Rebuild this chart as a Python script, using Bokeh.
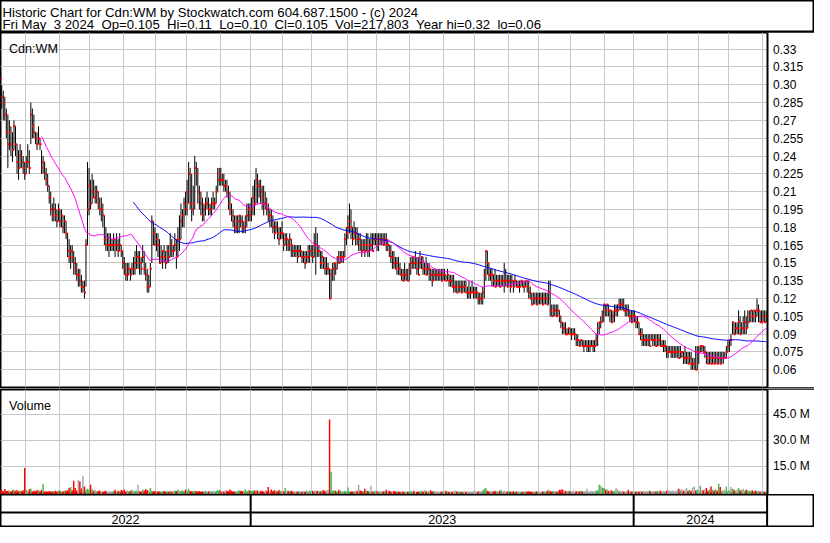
import pandas as pd
from bokeh.plotting import figure
from bokeh.layouts import column
from bokeh.models import (Range1d, FixedTicker, Grid, Label, LinearAxis,
                          ColumnDataSource)
from bokeh.core.properties import value
from bokeh.embed import file_html
from bokeh.resources import INLINE

# ---------------- data ----------------
TITLE_1 = "Historic Chart for Cdn:WM by Stockwatch.com 604.687.1500 - (c) 2024"
TITLE_2 = "Fri May  3 2024  Op=0.105  Hi=0.11  Lo=0.10  Cl=0.105  Vol=217,803  Year hi=0.32  lo=0.06"
SYMBOL = "Cdn:WM"
VOLUME_LABEL = "Volume"

START = "2022-05-04"
END = "2024-05-03"
HOLIDAYS = ["2022-05-23", "2022-07-01", "2022-08-01", "2022-09-05", "2022-10-10",
            "2022-12-26", "2022-12-27", "2023-01-02", "2023-02-20", "2023-04-07",
            "2023-05-22", "2023-07-03", "2023-08-07", "2023-09-04", "2023-10-09",
            "2023-12-25", "2023-12-26", "2024-01-01", "2024-02-19", "2024-03-29"]

HIGH = [
    .32, .32, .315, .30, .295, .29, .28, .275, .27, .265,
    .26, .27, .265, .25, .245, .25, .245, .24, .235, .24,
    .25, .245, .285, .28, .275, .26, .26, .265, .255, .245,
    .24, .235, .23, .225, .215, .21, .20, .205, .20, .195,
    .20, .195, .195, .19, .19, .185, .175, .17, .165, .165,
    .16, .155, .15, .145, .145, .14, .135, .135, .17, .235,
    .23, .22, .225, .22, .215, .215, .21, .205, .205, .20,
    .19, .18, .175, .175, .175, .17, .175, .17, .175, .17,
    .175, .165, .16, .155, .15, .15, .15, .145, .15, .155,
    .16, .165, .16, .16, .155, .165, .16, .15, .145, .14,
    .15, .19, .185, .18, .175, .175, .17, .165, .16, .165,
    .16, .165, .165, .175, .17, .165, .175, .17, .18, .19,
    .20, .195, .205, .21, .22, .235, .23, .225, .215, .24,
    .235, .23, .215, .21, .205, .20, .205, .21, .205, .20,
    .205, .21, .205, .215, .23, .23, .23, .225, .225, .22,
    .22, .215, .21, .20, .195, .19, .19, .19, .19, .19,
    .19, .185, .19, .20, .20, .20, .205, .215, .22, .23,
    .225, .22, .22, .215, .215, .21, .205, .20, .195, .195,
    .19, .185, .185, .185, .18, .18, .185, .175, .175, .175,
    .17, .175, .17, .165, .165, .165, .165, .165, .165, .16,
    .16, .16, .16, .165, .165, .165, .165, .175, .18, .175,
    .165, .16, .16, .155, .155, .155, .15, .145, .145, .15,
    .15, .15, .155, .16, .16, .16, .16, .175, .18, .19,
    .20, .195, .18, .185, .18, .18, .175, .175, .17, .17,
    .17, .175, .175, .17, .175, .175, .175, .175, .175, .175,
    .175, .175, .175, .175, .175, .17, .165, .165, .16, .16,
    .155, .155, .155, .15, .145, .145, .15, .145, .145, .15,
    .155, .155, .155, .16, .155, .155, .16, .155, .155, .15,
    .155, .15, .15, .145, .145, .145, .145, .145, .145, .145,
    .145, .145, .145, .14, .145, .14, .14, .14, .14, .135,
    .135, .135, .135, .135, .135, .135, .135, .13, .135, .13,
    .135, .13, .13, .13, .125, .125, .125, .13, .145, .16,
    .16, .15, .145, .145, .14, .145, .14, .14, .14, .14,
    .14, .15, .145, .14, .14, .14, .14, .135, .14, .135,
    .135, .135, .135, .135, .135, .135, .135, .135, .13, .125,
    .125, .125, .125, .125, .125, .125, .125, .125, .125, .125,
    .135, .135, .115, .115, .115, .115, .115, .11, .105, .10,
    .10, .10, .095, .095, .095, .095, .095, .095, .09, .09,
    .085, .085, .085, .085, .085, .085, .085, .085, .085, .085,
    .085, .09, .10, .10, .105, .11, .115, .115, .115, .115,
    .11, .11, .11, .115, .115, .115, .12, .12, .12, .12,
    .115, .115, .115, .11, .11, .11, .11, .105, .105, .10,
    .095, .095, .09, .09, .09, .09, .09, .09, .09, .09,
    .09, .09, .09, .09, .085, .085, .085, .08, .08, .08,
    .08, .08, .08, .08, .08, .08, .08, .075, .075, .08,
    .075, .075, .075, .075, .07, .07, .08, .08, .08, .08,
    .08, .08, .08, .075, .075, .075, .075, .075, .075, .075,
    .075, .075, .075, .075, .075, .075, .08, .085, .085, .09,
    .10, .10, .10, .10, .11, .105, .10, .105, .11, .105,
    .11, .11, .11, .11, .11, .11, .12, .115, .11, .11,
    .11, .11, .11]

LOW = [
    .30, .305, .29, .28, .27, .27, .255, .23, .245, .24,
    .235, .245, .24, .225, .22, .23, .23, .225, .22, .225,
    .23, .225, .25, .255, .255, .25, .245, .25, .245, .225,
    .225, .22, .215, .21, .20, .19, .185, .185, .185, .18,
    .185, .18, .18, .175, .175, .17, .155, .15, .145, .15,
    .14, .14, .135, .13, .13, .125, .125, .12, .13, .165,
    .19, .195, .20, .205, .20, .20, .195, .19, .185, .18,
    .165, .16, .16, .155, .16, .16, .16, .155, .16, .155,
    .16, .155, .145, .14, .135, .135, .14, .135, .14, .14,
    .14, .145, .145, .14, .14, .15, .14, .135, .125, .125,
    .13, .15, .165, .165, .16, .155, .15, .15, .145, .15,
    .145, .15, .15, .155, .155, .155, .16, .145, .155, .16,
    .17, .18, .18, .19, .19, .20, .195, .185, .19, .195,
    .215, .20, .195, .19, .185, .185, .19, .195, .19, .19,
    .19, .195, .195, .20, .21, .215, .215, .215, .21, .21,
    .205, .195, .19, .185, .18, .175, .175, .175, .175, .18,
    .175, .175, .175, .18, .185, .185, .185, .19, .19, .20,
    .20, .205, .20, .195, .19, .195, .19, .185, .18, .18,
    .175, .17, .175, .17, .165, .17, .17, .16, .165, .16,
    .16, .16, .155, .155, .155, .155, .15, .155, .155, .15,
    .15, .145, .15, .15, .15, .155, .15, .155, .14, .155,
    .155, .145, .145, .145, .14, .14, .14, .12, .12, .135,
    .135, .14, .145, .15, .15, .15, .15, .155, .165, .17,
    .175, .17, .165, .17, .165, .165, .16, .16, .155, .16,
    .155, .16, .155, .155, .16, .16, .165, .165, .16, .16,
    .165, .165, .165, .165, .16, .16, .155, .15, .145, .145,
    .145, .14, .14, .14, .135, .135, .135, .135, .135, .135,
    .14, .145, .145, .145, .14, .14, .145, .145, .14, .14,
    .14, .14, .135, .135, .13, .135, .135, .135, .135, .135,
    .135, .135, .135, .135, .135, .13, .13, .13, .125, .125,
    .125, .125, .125, .125, .125, .125, .125, .12, .12, .12,
    .125, .12, .12, .12, .115, .115, .115, .115, .12, .135,
    .14, .135, .135, .13, .13, .13, .13, .13, .13, .13,
    .13, .125, .13, .13, .13, .125, .13, .125, .13, .13,
    .13, .125, .13, .13, .125, .13, .125, .12, .12, .115,
    .115, .115, .115, .115, .115, .115, .115, .115, .115, .115,
    .115, .105, .105, .105, .105, .105, .105, .10, .095, .09,
    .09, .09, .09, .09, .09, .085, .09, .085, .08, .08,
    .08, .08, .08, .075, .08, .075, .075, .075, .08, .075,
    .075, .08, .08, .09, .095, .10, .10, .105, .105, .105,
    .10, .10, .10, .10, .105, .105, .11, .11, .11, .11,
    .105, .105, .105, .10, .10, .10, .10, .095, .095, .09,
    .085, .08, .08, .08, .08, .08, .08, .085, .08, .08,
    .08, .08, .08, .08, .08, .075, .075, .07, .07, .075,
    .07, .07, .07, .07, .07, .07, .07, .07, .065, .065,
    .065, .065, .065, .06, .06, .06, .06, .06, .065, .075,
    .075, .075, .07, .065, .065, .065, .065, .065, .065, .065,
    .065, .065, .065, .065, .065, .07, .07, .075, .075, .08,
    .09, .09, .09, .09, .09, .09, .09, .09, .09, .09,
    .095, .10, .10, .10, .10, .10, .105, .10, .10, .10,
    .10, .10, .10]

CLOSE = [
    .31, .315, .305, .29, .285, .275, .26, .25, .26, .25,
    .245, .265, .25, .235, .23, .24, .235, .23, .225, .235,
    .235, .23, .275, .265, .26, .255, .25, .255, .25, .23,
    .235, .225, .22, .215, .205, .195, .19, .195, .19, .185,
    .195, .185, .19, .18, .185, .175, .16, .155, .16, .155,
    .15, .145, .14, .14, .135, .13, .13, .125, .165, .195,
    .215, .20, .21, .205, .205, .21, .20, .195, .195, .19,
    .17, .165, .165, .165, .165, .165, .17, .165, .165, .16,
    .165, .16, .15, .145, .14, .14, .145, .14, .145, .145,
    .15, .155, .155, .15, .145, .155, .145, .14, .13, .13,
    .145, .185, .175, .165, .17, .165, .15, .155, .16, .155,
    .15, .16, .155, .165, .16, .16, .165, .155, .17, .17,
    .185, .19, .20, .195, .21, .225, .20, .195, .20, .23,
    .225, .21, .205, .20, .19, .195, .20, .20, .195, .195,
    .20, .20, .20, .21, .22, .225, .22, .22, .215, .215,
    .21, .20, .195, .19, .185, .18, .18, .185, .19, .185,
    .18, .18, .185, .19, .195, .19, .195, .205, .20, .22,
    .215, .215, .21, .205, .20, .20, .195, .19, .19, .185,
    .18, .175, .18, .175, .17, .175, .175, .165, .17, .17,
    .165, .17, .165, .16, .16, .16, .155, .16, .16, .155,
    .155, .15, .155, .155, .16, .16, .155, .165, .165, .16,
    .16, .15, .155, .15, .145, .145, .145, .12, .14, .145,
    .15, .145, .155, .15, .155, .155, .155, .17, .175, .18,
    .185, .18, .17, .175, .175, .17, .17, .165, .16, .165,
    .16, .165, .16, .165, .165, .16, .17, .17, .165, .17,
    .17, .17, .165, .17, .165, .165, .16, .155, .155, .15,
    .145, .15, .145, .14, .14, .135, .14, .14, .135, .145,
    .15, .155, .15, .15, .145, .14, .15, .155, .145, .145,
    .14, .145, .145, .14, .135, .14, .14, .14, .14, .14,
    .135, .14, .14, .135, .14, .135, .135, .13, .13, .13,
    .125, .13, .13, .125, .13, .13, .125, .125, .125, .125,
    .125, .125, .125, .125, .12, .12, .12, .125, .14, .16,
    .15, .14, .14, .14, .135, .13, .135, .135, .13, .135,
    .135, .135, .135, .13, .135, .13, .135, .13, .135, .13,
    .13, .13, .135, .13, .13, .135, .13, .125, .12, .115,
    .12, .12, .115, .12, .12, .12, .115, .12, .12, .115,
    .125, .11, .105, .11, .11, .105, .11, .105, .10, .095,
    .095, .09, .09, .095, .09, .09, .09, .09, .085, .085,
    .08, .085, .08, .08, .08, .08, .08, .08, .08, .08,
    .08, .085, .095, .10, .10, .105, .115, .11, .115, .11,
    .11, .10, .105, .11, .11, .11, .115, .115, .115, .11,
    .11, .11, .105, .105, .10, .105, .105, .10, .10, .09,
    .09, .085, .085, .085, .085, .085, .08, .085, .085, .085,
    .08, .085, .085, .08, .08, .08, .08, .075, .075, .075,
    .075, .075, .075, .075, .075, .07, .075, .075, .07, .07,
    .07, .065, .07, .065, .065, .065, .06, .075, .075, .08,
    .08, .075, .075, .07, .065, .07, .065, .07, .065, .07,
    .065, .07, .065, .07, .07, .07, .075, .08, .085, .085,
    .10, .09, .095, .095, .10, .09, .095, .095, .10, .095,
    .10, .105, .11, .105, .11, .105, .11, .11, .10, .10,
    .105, .10, .105]

VOLUME_M = [
    1.2, 0.8, 1.5, 1.4, 0.6, 1.9, 0.7, 0.8, 1.0, 0.5,
    1.2, 1.4, 0.9, 1.3, 0.6, 1.0, 0.7, 1.2, 14.0, 1.3,
    0.8, 1.8, 2.2, 0.6, 0.9, 0.7, 1.3, 1.2, 0.7, 1.4,
    4.9, 0.5, 0.6, 0.4, 0.7, 0.5, 0.4, 0.6, 0.9, 0.5,
    1.0, 0.7, 0.5, 0.6, 0.8, 1.0, 1.2, 2.4, 3.0, 1.2,
    6.6, 2.4, 1.0, 7.2, 6.2, 2.2, 9.5, 3.3, 1.4, 2.0,
    1.5, 4.3, 1.8, 0.8, 1.4, 0.6, 0.7, 1.0, 0.5, 0.4,
    0.6, 0.9, 0.5, 0.4, 0.5, 0.6, 0.7, 1.4, 0.5, 0.9,
    0.6, 1.3, 0.8, 1.6, 0.5, 1.1, 0.6, 0.9, 1.4, 0.8,
    0.7, 0.9, 4.3, 0.6, 0.5, 1.4, 1.0, 1.7, 1.3, 0.9,
    2.4, 0.8, 0.6, 0.7, 0.5, 0.6, 0.4, 0.5, 0.6, 0.7,
    0.5, 0.6, 0.4, 0.9, 0.5, 0.6, 1.0, 0.7, 1.4, 0.8,
    0.9, 1.2, 0.7, 1.5, 0.8, 2.0, 0.7, 0.6, 0.8, 0.9,
    0.6, 0.5, 0.7, 0.4, 0.6, 0.5, 0.8, 0.4, 0.6, 0.7,
    0.5, 0.9, 0.6, 0.7, 1.2, 1.4, 0.6, 0.8, 0.5, 1.1,
    0.9, 0.7, 1.6, 0.8, 0.6, 0.5, 0.7, 0.6, 1.1, 0.8,
    0.7, 0.9, 1.8, 0.6, 1.3, 0.9, 0.7, 1.1, 0.8, 1.2,
    1.0, 0.6, 0.7, 0.9, 0.5, 1.0, 0.8, 3.0, 0.9, 1.6,
    0.7, 1.2, 0.8, 0.6, 1.3, 0.7, 0.9, 0.6, 2.4, 0.8,
    0.9, 0.6, 0.9, 0.5, 0.4, 0.6, 0.5, 0.7, 0.4, 0.5,
    0.6, 0.5, 0.8, 0.4, 1.0, 0.7, 0.9, 0.6, 1.2, 0.7,
    0.8, 0.6, 0.9, 1.3, 0.7, 1.0, 1.4, 42.0, 11.9, 1.0,
    1.0, 0.8, 0.5, 1.4, 0.8, 0.7, 0.6, 0.9, 0.5, 2.8,
    0.6, 0.5, 0.4, 0.6, 0.8, 0.9, 4.3, 1.0, 0.7, 0.6,
    2.0, 0.8, 0.9, 0.6, 3.7, 0.5, 0.7, 0.9, 0.6, 0.5,
    0.7, 0.5, 0.6, 0.4, 1.4, 0.6, 0.8, 0.4, 0.5, 0.7,
    0.6, 0.4, 0.5, 0.3, 0.6, 0.4, 0.5, 0.3, 0.4, 0.5,
    0.6, 0.4, 0.8, 0.5, 0.3, 0.6, 0.4, 0.9, 0.5, 1.4,
    0.6, 0.4, 0.9, 1.1, 0.5, 0.7, 0.6, 0.4, 0.5, 0.3,
    0.4, 0.6, 0.5, 0.8, 0.4, 0.3, 0.5, 0.4, 0.6, 1.0,
    0.5, 0.6, 0.4, 0.3, 0.5, 0.4, 0.3, 0.6, 0.4, 0.5,
    0.4, 0.9, 0.6, 0.5, 0.4, 0.7, 0.6, 1.1, 2.0, 2.4,
    0.9, 0.6, 0.4, 0.7, 0.5, 0.9, 0.6, 0.5, 0.8, 1.4,
    0.6, 0.9, 0.5, 0.4, 0.6, 0.5, 0.4, 0.6, 0.3, 0.5,
    0.4, 0.6, 0.3, 0.5, 0.7, 0.4, 0.5, 0.6, 0.4, 0.3,
    0.5, 0.4, 0.6, 0.4, 0.5, 0.3, 0.4, 0.6, 0.5, 0.8,
    1.4, 0.6, 0.5, 0.7, 0.5, 0.4, 0.6, 1.4, 1.4, 1.8,
    0.9, 0.8, 0.7, 0.9, 0.6, 0.5, 0.8, 0.4, 0.6, 0.7,
    0.5, 0.9, 0.6, 0.5, 0.7, 2.0, 0.6, 0.5, 0.9, 0.7,
    0.6, 1.0, 1.2, 4.3, 3.7, 2.8, 2.4, 1.4, 1.8, 0.9,
    0.8, 1.2, 0.7, 0.9, 2.4, 1.4, 0.9, 0.6, 0.9, 0.5,
    0.5, 0.7, 1.4, 0.6, 0.5, 0.6, 0.4, 0.5, 0.6, 0.4,
    0.6, 0.5, 0.8, 0.5, 0.7, 0.6, 0.9, 0.5, 0.6, 0.8,
    0.5, 0.9, 0.6, 1.0, 0.5, 0.7, 0.6, 0.9, 1.4, 0.8,
    0.9, 1.0, 0.6, 0.8, 1.4, 2.0, 1.2, 1.8, 0.9, 1.4,
    2.4, 0.9, 1.4, 0.8, 2.8, 3.3, 1.0, 1.6, 0.8, 3.7,
    1.4, 1.2, 1.8, 2.4, 0.9, 1.6, 3.3, 1.4, 1.0, 1.8,
    0.8, 4.9, 3.0, 0.9, 1.2, 1.5, 3.3, 0.6, 1.0, 3.0,
    2.0, 1.4, 0.8, 1.4, 2.4, 1.2, 1.4, 2.0, 0.8, 1.4,
    1.0, 0.9, 0.8, 1.1, 0.6, 1.0, 0.7, 0.8, 0.5, 0.6,
    0.4, 0.5, 0.2]

PRICE_TICKS = [0.06, 0.075, 0.09, 0.105, 0.12, 0.135, 0.15, 0.165, 0.18, 0.195,
               0.21, 0.225, 0.24, 0.255, 0.27, 0.285, 0.30, 0.315, 0.33]
PRICE_TICK_LABELS = ["0.06", "0.075", "0.09", "0.105", "0.12", "0.135", "0.15", "0.165",
                     "0.18", "0.195", "0.21", "0.225", "0.24", "0.255", "0.27", "0.285",
                     "0.30", "0.315", "0.33"]
VOL_TICKS = [15, 30, 45]
VOL_TICK_LABELS = ["15.0 M", "30.0 M", "45.0 M"]
MA_SHORT = 30
MA_LONG = 90

# ---------------- derived ----------------
n = len(CLOSE)
days = pd.bdate_range(START, END)
days = days[~days.isin(pd.to_datetime(HOLIDAYS))]
days = list(days[-n:])
idx = list(range(n))

month_lines = [i - 0.5 for i in range(1, n) if days[i].month != days[i - 1].month]
year_lines = [i - 0.5 for i in range(1, n) if days[i].year != days[i - 1].year]
years = [str(days[0].year)] + [str(days[int(b + 0.5)].year) for b in year_lines]

closes = pd.Series(CLOSE)
ma_s = closes.rolling(MA_SHORT).mean()
ma_l = closes.rolling(MA_LONG).mean()

vcolors = []
for i, c in enumerate(CLOSE):
    if i == 0 or c == CLOSE[i - 1]:
        vcolors.append("#a8a8a8")
    elif c > CLOSE[i - 1]:
        vcolors.append("#4cb44c")
    else:
        vcolors.append("#ff0000")

src = ColumnDataSource(dict(x=idx, xc=[i + 0.35 for i in idx], high=HIGH, low=LOW,
                            close=CLOSE, vol=VOLUME_M, vcol=vcolors,
                            mas=list(ma_s), mal=list(ma_l)))

# ---------------- layout ----------------
W = 814
FONT = "Liberation Sans"
GRID = "#c8c8c8"
X0 = 2.2          # left edge of the plotting area (bar index)
XE = 502.6        # right end of the data area, where the value axis sits
AXIS_PX = 766.6   # pixel position of the value axis inside the frame
X1 = XE + (W - AXIS_PX) * (XE - X0) / AXIS_PX
x_range = Range1d(X0, X1)
VOL_BASE = -1.3


def panel(h, yr, bottom=0, xr=x_range):
    p = figure(width=W, height=h, x_range=xr, y_range=yr, output_backend="svg",
               toolbar_location=None, x_axis_location=None, y_axis_location=None,
               min_border_left=0, min_border_right=0, min_border_top=0,
               min_border_bottom=bottom)
    p.grid.visible = False
    p.outline_line_color = "black"
    p.outline_line_width = 2
    p.outline_line_alpha = 1
    p.background_fill_color = "white"
    p.border_fill_color = "white"
    return p


def value_axis(p, ticks, labels, yr):
    # blank out the label column, then draw the axis line + labels there
    p.quad(left=[XE], right=[X1], bottom=[yr.start], top=[yr.end],
           fill_color="white", line_color=None)
    ax = LinearAxis(ticker=FixedTicker(ticks=ticks), fixed_location=XE,
                    major_label_overrides=dict(zip(ticks, labels)))
    ax.axis_line_color = "black"
    ax.axis_line_width = 2
    ax.major_tick_line_color = None
    ax.minor_tick_line_color = None
    ax.major_tick_out = 0
    ax.major_tick_in = 0
    ax.major_label_standoff = 6
    ax.major_label_text_font = FONT
    ax.major_label_text_font_size = "12px"
    ax.major_label_text_color = "black"
    p.add_layout(ax, "right")


# header
hdr = panel(32, Range1d(0, 1), xr=Range1d(0, 1))
hdr.add_layout(Label(x=2, y=20.3, x_units="screen", y_units="screen",
                     text=TITLE_1.replace(" ", "\u00a0"), text_font=FONT,
                     text_font_size="13.2px", text_color="black",
                     text_baseline="alphabetic"))
hdr.add_layout(Label(x=2, y=8.0, x_units="screen", y_units="screen",
                     text=TITLE_2.replace(" ", "\u00a0"), text_font=FONT,
                     text_font_size="13.2px", text_color="black",
                     text_baseline="alphabetic"))

# price panel
price_y = Range1d(0.0451, 0.344)
pp = panel(357, price_y, bottom=2)
pp.add_layout(Grid(dimension=0, ticker=FixedTicker(ticks=month_lines),
                   grid_line_color=GRID, grid_line_width=1))
pp.add_layout(Grid(dimension=1, ticker=FixedTicker(ticks=PRICE_TICKS),
                   grid_line_color=GRID, grid_line_width=1))
pp.segment(x0="x", y0="low", x1="x", y1="high", source=src,
           line_color="black", line_width=1.0)
pp.rect(x="xc", y="close", width=2, height=2, width_units="screen",
        height_units="screen", source=src, fill_color="#ff0000", line_color=None)
pp.line("x", "mal", source=src, line_color="#0000ff", line_width=1)
pp.line("x", "mas", source=src, line_color="#ff00ff", line_width=1)
value_axis(pp, PRICE_TICKS, PRICE_TICK_LABELS, price_y)
pp.add_layout(Label(x=8.5, y=339, x_units="screen", y_units="screen", text=SYMBOL,
                    text_font=FONT, text_font_size="12.6px", text_color="black",
                    text_baseline="alphabetic"))

# volume panel
vol_y = Range1d(VOL_BASE, 59.4)
vp = panel(105, vol_y)
vp.add_layout(Grid(dimension=0, ticker=FixedTicker(ticks=month_lines),
                   grid_line_color=GRID, grid_line_width=1))
vp.add_layout(Grid(dimension=1, ticker=FixedTicker(ticks=VOL_TICKS),
                   grid_line_color=GRID, grid_line_width=1))
vp.vbar(x="x", top="vol", bottom=VOL_BASE, width=0.95, source=src,
        fill_color="vcol", line_color=None)
value_axis(vp, VOL_TICKS, VOL_TICK_LABELS, vol_y)
vp.add_layout(Label(x=8.5, y=88.6, x_units="screen", y_units="screen", text=VOLUME_LABEL,
                    text_font=FONT, text_font_size="12.6px", text_color="black",
                    text_baseline="alphabetic"))

# year strip
yp = panel(33, Range1d(0, 1))
yp.segment(x0=[X0], y0=[0.455], x1=[XE], y1=[0.455], line_color="black", line_width=2)
yp.segment(x0=year_lines + [XE], y0=[0] * (len(year_lines) + 1),
           x1=year_lines + [XE], y1=[1] * (len(year_lines) + 1),
           line_color="black", line_width=2)
edges = [X0] + year_lines + [XE]
centers = [(edges[k] + edges[k + 1]) / 2 for k in range(len(edges) - 1)]
yp.text(x=centers, y=[0.25] * len(centers), text=years, text_align="center",
        text_baseline="middle", text_font=value(FONT), text_font_size="12.6px",
        text_color="black")

layout = column(hdr, pp, vp, yp, spacing=0)

open("out.html", "w").write(file_html(layout, INLINE))
